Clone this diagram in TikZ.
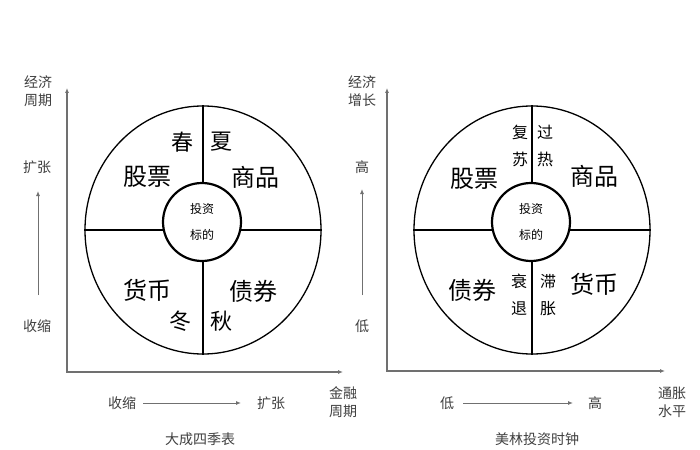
\documentclass[tikz,border=0pt]{standalone}
\usepackage{fontspec}
\setmainfont{Noto Sans CJK SC}
\usetikzlibrary{shapes.geometric,arrows.meta}
\definecolor{axisgray}{HTML}{707070}
\definecolor{labgray}{HTML}{404040}
\tikzset{
  outer/.style={draw=black,line width=1.3pt,ellipse,minimum width=236pt,minimum height=248pt,inner sep=0pt},
  inner/.style={draw=black,line width=2.2pt,circle,fill=white,minimum size=78pt,inner sep=0pt,
     font=\fontsize{12}{26}\selectfont,align=center},
  divider/.style={draw=black,line width=1.3pt},
  axisline/.style={draw=axisgray,line width=1.1pt,{Latex[length=5pt,width=4pt]}-{Latex[length=5pt,width=4pt]}},
  labarrow/.style={draw=axisgray,line width=1pt,-{Latex[length=5pt,width=4pt]}},
  big/.style={font=\fontsize{24}{24}\selectfont,text=black,inner sep=0pt},
  season/.style={font=\fontsize{22}{22}\selectfont,text=black,inner sep=0pt},
  small/.style={font=\fontsize{16}{27}\selectfont,text=black,inner sep=0pt,align=center},
  axlab/.style={font=\fontsize{14}{18}\selectfont,text=labgray,inner sep=0pt,align=center},
  caption/.style={font=\fontsize{14}{14}\selectfont,text=labgray,inner sep=0pt},
}
\begin{document}
\begin{tikzpicture}[x=1pt,y=-1pt]
\useasboundingbox[fill=white] (0,0) rectangle (700,449);

% ---------------- Left panel ----------------
\coordinate (LO) at (67,372);
\coordinate (LT) at (67,88);
\coordinate (LR) at (343,372);
\draw[axisline] (LT) |- (LR);

\node[outer] (L) at (203,230) {};
\draw[divider] (L.north) -- (L.south);
\draw[divider] (L.west) -- (L.east);
\node[inner] (Li) at (202,222) {投资\\标的};

\node[season] (spring) at (182,142) {春};
\node[season] (summer) at (221,142) {夏};
\node[big] (Lstock) at (147,177) {股票};
\node[big] (Lcomm) at (255,177) {商品};
\node[big] (Lcash) at (147,290) {货币};
\node[big] (Lbond) at (253,291) {债券};
\node[season] (winter) at (180,321) {冬};
\node[season] (autumn) at (221,321) {秋};

\node[axlab] (Lylab) at (38,91) {经济\\周期};
\node[axlab] (Lyhi) at (37,167) {扩张};
\node[axlab] (Lylo) at (37,326) {收缩};
\coordinate (Lya) at (38,295);
\coordinate (Lyb) at (38,191);
\draw[labarrow] (Lya) -- (Lyb);

\node[axlab] (Lxlo) at (122,403) {收缩};
\node[axlab] (Lxhi) at (271,403) {扩张};
\coordinate (Lxa) at (143,403);
\coordinate (Lxb) at (241,403);
\draw[labarrow] (Lxa) -- (Lxb);
\node[axlab] (Lxlab) at (343,402) {金融\\周期};
\node[caption] (Lcap) at (200,439) {大成四季表};

% ---------------- Right panel ----------------
\coordinate (RO) at (387,371);
\coordinate (RT) at (387,88);
\coordinate (RR) at (665,371);
\draw[axisline] (RT) |- (RR);

\node[outer] (R) at (532,230) {};
\draw[divider] (R.north) -- (R.south);
\draw[divider] (R.west) -- (R.east);
\node[inner] (Ri) at (531,222) {投资\\标的};

\node[small] (recov) at (520,146) {复\\苏};
\node[small] (overh) at (545,146) {过\\热};
\node[big] (Rstock) at (474,179) {股票};
\node[big] (Rcomm) at (594,176) {商品};
\node[big] (Rbond) at (472,290) {债券};
\node[big] (Rcash) at (594,284) {货币};
\node[small] (reces) at (519,295) {衰\\退};
\node[small] (stag) at (548,295) {滞\\胀};

\node[axlab] (Rylab) at (362,91) {经济\\增长};
\node[axlab] (Ryhi) at (362,167) {高};
\node[axlab] (Rylo) at (362,326) {低};
\coordinate (Rya) at (362,295);
\coordinate (Ryb) at (362,189);
\draw[labarrow] (Rya) -- (Ryb);

\node[axlab] (Rxlo) at (447,403) {低};
\node[axlab] (Rxhi) at (595,403) {高};
\coordinate (Rxa) at (463,403);
\coordinate (Rxb) at (573,403);
\draw[labarrow] (Rxa) -- (Rxb);
\node[axlab] (Rxlab) at (672,402) {通胀\\水平};
\node[caption] (Rcap) at (537,439) {美林投资时钟};
\end{tikzpicture}
\end{document}
